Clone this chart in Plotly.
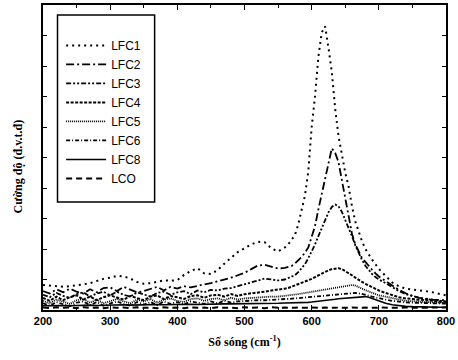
import plotly.graph_objects as go

# Raman shift grid (cm^-1): 10 cm^-1 steps, 5 cm^-1 steps through the main band
wavenumber = (list(range(200, 561, 10)) + list(range(565, 701, 5))
              + list(range(710, 801, 10)))

lfc1 = [0.82, 0.80, 0.77, 0.76, 0.78, 0.80, 0.84, 0.88, 0.95, 1.02,
        1.06, 1.12, 1.10, 1.03, 0.92, 0.86, 0.88, 0.92, 0.97, 0.96,
        0.98, 1.15, 1.28, 1.37, 1.20, 1.18, 1.31, 1.52, 1.70, 1.90,
        2.02, 2.15, 2.24, 2.22, 2.02, 1.92, 2.05,
        2.15, 2.30, 2.45, 2.80, 3.25, 3.75, 4.55, 6.00, 7.00, 8.30,
        9.10, 9.30, 8.60, 7.80, 6.60, 5.70, 5.10, 4.50, 4.05, 3.40,
        2.90, 2.55, 2.25, 2.00, 1.80, 1.65, 1.50, 1.35,
        1.12, 0.90, 0.78, 0.70, 0.67, 0.65, 0.62, 0.58, 0.53, 0.48]

lfc2 = [0.62, 0.54, 0.68, 0.58, 0.70, 0.60, 0.54, 0.68, 0.58, 0.72,
        0.74, 0.62, 0.76, 0.66, 0.58, 0.62, 0.70, 0.76, 0.64, 0.76,
        0.70, 0.78, 0.74, 0.80, 0.84, 0.88, 0.94, 0.98, 1.06, 1.14,
        1.22, 1.34, 1.46, 1.48, 1.42, 1.36, 1.38,
        1.40, 1.44, 1.52, 1.62, 1.74, 1.88, 2.05, 2.40, 2.75, 3.30,
        3.80, 4.30, 4.80, 5.30, 5.15, 4.85, 4.25, 3.65, 3.00, 2.50,
        2.15, 1.90, 1.70, 1.58, 1.44, 1.32, 1.20, 1.10,
        0.95, 0.80, 0.66, 0.55, 0.46, 0.40, 0.36, 0.34, 0.33, 0.32]

lfc3 = [0.50, 0.42, 0.56, 0.46, 0.40, 0.52, 0.58, 0.44, 0.54, 0.60,
        0.48, 0.60, 0.50, 0.44, 0.58, 0.50, 0.44, 0.56, 0.60, 0.50,
        0.58, 0.62, 0.52, 0.64, 0.58, 0.66, 0.64, 0.70, 0.72, 0.78,
        0.84, 0.92, 0.98, 1.03, 1.00, 0.97, 1.00,
        1.04, 1.08, 1.14, 1.24, 1.36, 1.50, 1.70, 1.92, 2.15, 2.42,
        2.70, 2.98, 3.20, 3.38, 3.46, 3.40, 3.22, 2.95, 2.70, 2.42,
        2.12, 1.86, 1.64, 1.45, 1.30, 1.18, 1.08, 1.00,
        0.88, 0.74, 0.62, 0.52, 0.45, 0.40, 0.36, 0.33, 0.30, 0.28]

lfc4 = [0.40, 0.30, 0.44, 0.32, 0.42, 0.48, 0.34, 0.44, 0.32, 0.42,
        0.48, 0.40, 0.34, 0.46, 0.38, 0.32, 0.44, 0.48, 0.36, 0.46,
        0.42, 0.36, 0.46, 0.48, 0.40, 0.48, 0.50, 0.44, 0.52, 0.46,
        0.52, 0.54, 0.56, 0.60, 0.64, 0.66, 0.70,
        0.72, 0.76, 0.80, 0.84, 0.88, 0.92, 0.96, 1.02, 1.08, 1.14,
        1.20, 1.26, 1.30, 1.34, 1.36, 1.37, 1.34, 1.28, 1.22, 1.14,
        1.06, 0.98, 0.92, 0.86, 0.80, 0.76, 0.70, 0.64,
        0.56, 0.48, 0.42, 0.38, 0.36, 0.34, 0.32, 0.30, 0.28, 0.26]

lfc5 = [0.30, 0.22, 0.34, 0.26, 0.20, 0.32, 0.36, 0.24, 0.34, 0.22,
        0.30, 0.36, 0.28, 0.22, 0.34, 0.28, 0.36, 0.24, 0.34, 0.38,
        0.30, 0.26, 0.36, 0.38, 0.30, 0.36, 0.38, 0.32, 0.40, 0.34,
        0.38, 0.40, 0.40, 0.42, 0.44, 0.44, 0.46,
        0.48, 0.49, 0.50, 0.52, 0.54, 0.56, 0.58, 0.60, 0.62, 0.64,
        0.66, 0.67, 0.69, 0.71, 0.73, 0.75, 0.77, 0.79, 0.80, 0.82,
        0.80, 0.76, 0.70, 0.65, 0.61, 0.57, 0.52, 0.48,
        0.44, 0.38, 0.34, 0.30, 0.28, 0.27, 0.26, 0.25, 0.24, 0.24]

lfc6 = [0.22, 0.14, 0.26, 0.18, 0.12, 0.24, 0.28, 0.16, 0.26, 0.14,
        0.22, 0.28, 0.20, 0.14, 0.26, 0.18, 0.26, 0.16, 0.28, 0.20,
        0.26, 0.18, 0.28, 0.24, 0.20, 0.28, 0.22, 0.30, 0.24, 0.28,
        0.30, 0.30, 0.32, 0.32, 0.34, 0.34, 0.36,
        0.36, 0.37, 0.38, 0.39, 0.40, 0.41, 0.42, 0.43, 0.44, 0.45,
        0.46, 0.47, 0.48, 0.49, 0.50, 0.52, 0.53, 0.54, 0.55, 0.56,
        0.56, 0.55, 0.53, 0.50, 0.47, 0.44, 0.41, 0.38,
        0.34, 0.30, 0.27, 0.25, 0.24, 0.23, 0.22, 0.22, 0.21, 0.21]

lfc8 = [0.14, 0.15, 0.14, 0.15, 0.14, 0.15, 0.15, 0.16, 0.15, 0.16,
        0.16, 0.16, 0.17, 0.16, 0.17, 0.17, 0.17, 0.18, 0.17, 0.18,
        0.18, 0.18, 0.19, 0.18, 0.19, 0.19, 0.19, 0.20, 0.20, 0.20,
        0.21, 0.21, 0.21, 0.22, 0.22, 0.22, 0.23,
        0.23, 0.23, 0.24, 0.24, 0.24, 0.25, 0.25, 0.26, 0.27, 0.28,
        0.29, 0.30, 0.31, 0.33, 0.35, 0.37, 0.38, 0.39, 0.40, 0.41,
        0.42, 0.43, 0.44, 0.44, 0.42, 0.38, 0.33, 0.28,
        0.22, 0.17, 0.14, 0.12, 0.11, 0.10, 0.10, 0.09, 0.09, 0.09]

lco = [0.08, 0.06, 0.09, 0.07, 0.08, 0.06, 0.09, 0.07, 0.08, 0.06,
       0.09, 0.07, 0.08, 0.06, 0.09, 0.07, 0.08, 0.06, 0.09, 0.07,
       0.08, 0.06, 0.09, 0.07, 0.08, 0.06, 0.09, 0.07, 0.08, 0.06,
       0.09, 0.07, 0.08, 0.06, 0.09, 0.07, 0.08,
       0.07, 0.08, 0.07, 0.08, 0.07, 0.08, 0.07, 0.08, 0.07, 0.08,
       0.07, 0.08, 0.07, 0.08, 0.07, 0.08, 0.07, 0.08, 0.07, 0.08,
       0.07, 0.08, 0.07, 0.08, 0.07, 0.08, 0.07, 0.08,
       0.07, 0.08, 0.07, 0.08, 0.07, 0.08, 0.07, 0.08, 0.07, 0.08]

series_names = ["LFC1", "LFC2", "LFC3", "LFC4", "LFC5", "LFC6", "LFC8", "LCO"]
series_values = [lfc1, lfc2, lfc3, lfc4, lfc5, lfc6, lfc8, lco]

x_ticks = [200, 300, 400, 500, 600, 700, 800]

line_styles = [
    dict(width=2.0, dash="2px,4px"),
    dict(width=1.8, dash="8px,3px,2px,3px"),
    dict(width=1.8, dash="5px,2px,2px,2px,2px,2px"),
    dict(width=2.0, dash="3px,1.5px"),
    dict(width=1.8, dash="1px,1px"),
    dict(width=1.8, dash="4px,2px,1px,2px"),
    dict(width=1.6, dash="solid"),
    dict(width=2.0, dash="6px,4px"),
]

fig = go.Figure()
for name, vals, style in zip(series_names, series_values, line_styles):
    fig.add_trace(go.Scatter(
        x=wavenumber, y=vals, name=name, mode="lines",
        line=dict(color="black", **style),
    ))

axis_common = dict(
    showgrid=False, zeroline=False, showline=True, linecolor="black",
    linewidth=1.8, mirror="ticks", ticks="inside", tickcolor="black",
    tickwidth=1.2,
)

fig.update_xaxes(
    range=[200, 800], tickvals=x_ticks, ticklen=5,
    ticklabeloverflow="allow",
    tickfont=dict(family="Liberation Sans", size=11, color="black", weight="bold"),
    minor=dict(dtick=50, ticks="inside", ticklen=3, tickcolor="black", tickwidth=1),
    title=dict(text="Số sóng (cm<sup>-1</sup>)", standoff=12,
               font=dict(family="Liberation Serif", size=12, color="black", weight="bold")),
    **axis_common,
)
fig.update_yaxes(
    range=[0, 10], dtick=1, ticklen=4, showticklabels=False,
    **axis_common,
)

# Legend frame
fig.add_shape(type="rect", xref="paper", yref="paper",
              x0=0.036, x1=0.277, y0=0.354, y1=0.967,
              line=dict(color="black", width=1.5), fillcolor="rgba(0,0,0,0)")

fig.add_annotation(
    text="Cường độ (đ.v.t.đ)", xref="paper", yref="paper",
    x=-0.085, y=0.47, textangle=-90, showarrow=False,
    font=dict(family="Liberation Serif", size=12, color="black", weight="bold"),
)

fig.update_layout(
    width=458, height=360,
    margin=dict(l=43, r=3, t=5, b=50),
    paper_bgcolor="white", plot_bgcolor="white",
    showlegend=True,
    legend=dict(x=0.045, y=0.915, xanchor="left", yanchor="top",
                bgcolor="rgba(0,0,0,0)", borderwidth=0,
                font=dict(family="Liberation Sans", size=12, color="black"),
                tracegroupgap=0, itemwidth=40),
)

fig.write_html("out.html")
